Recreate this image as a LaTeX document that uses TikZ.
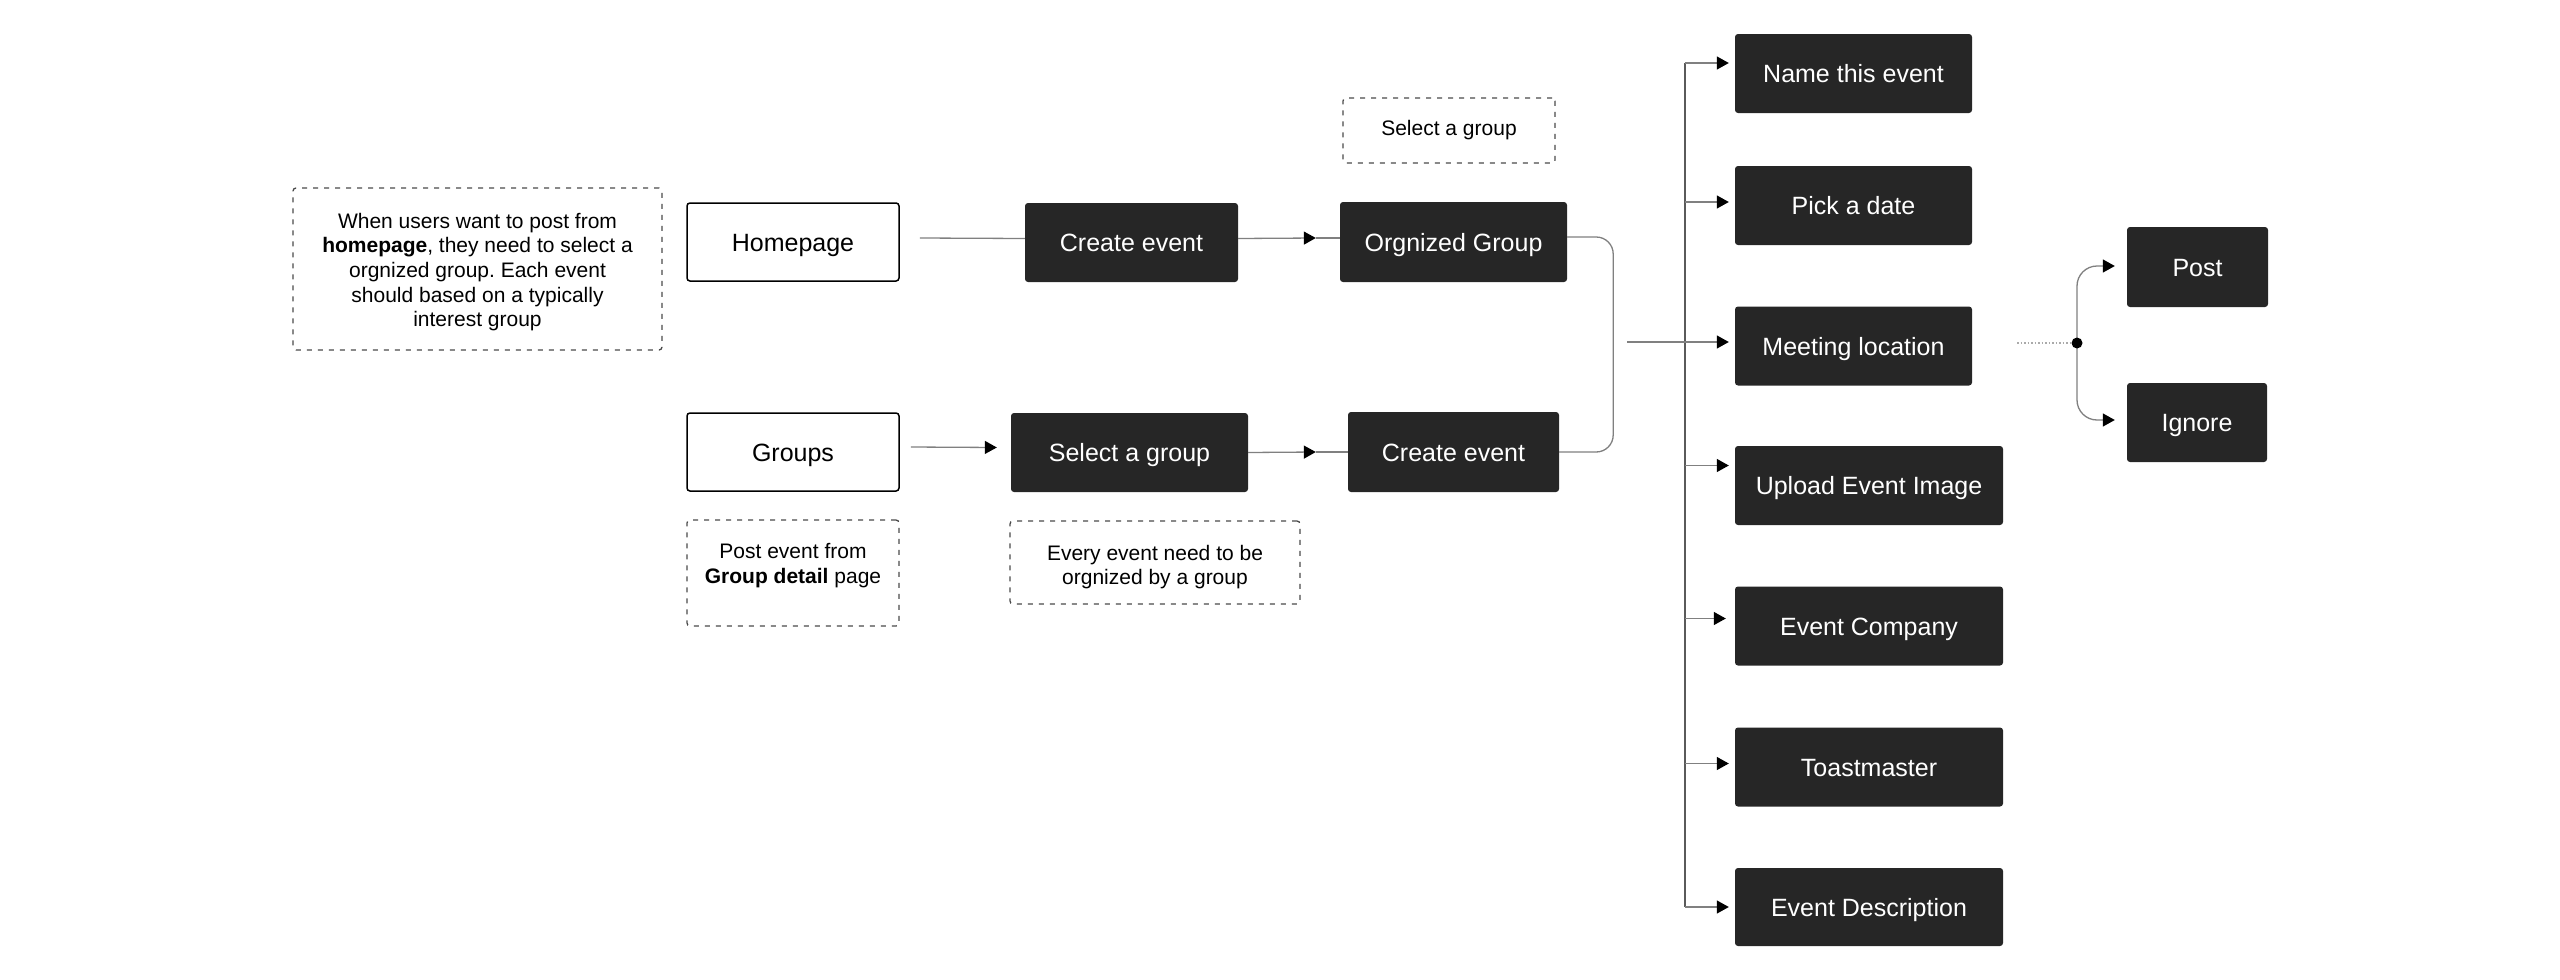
\documentclass[tikz,border=0pt]{standalone}
\usepackage{fontspec}
\setmainfont{Liberation Sans}
\frenchspacing
\usetikzlibrary{arrows.meta,calc}
\definecolor{boxdark}{HTML}{262626}
\definecolor{lnk}{HTML}{808080}
\definecolor{trk}{HTML}{5A5A5A}
\definecolor{dashc}{HTML}{4A4A4A}
\definecolor{dotc}{HTML}{AAAAAA}
\begin{document}
\begin{tikzpicture}[x=1pt,y=-1pt,
  darkbox/.style={fill=boxdark, draw=none, rounded corners=3pt, text=white,
    font=\fontsize{25}{30}\selectfont, text height=18pt, text depth=0pt, inner sep=0pt},
  whitebox/.style={draw=black, line width=1.5pt, rounded corners=3pt, fill=white,
    font=\fontsize{25}{30}\selectfont, text height=18pt, text depth=0pt, inner sep=0pt},
  notebox/.style={draw=dashc, line width=1.3pt, dash pattern=on 5pt off 6pt,
    rounded corners=3pt, align=center, font=\fontsize{21}{24.6}\selectfont, inner sep=0pt},
  notetext/.style={align=center, font=\fontsize{21}{24.6}\selectfont, inner sep=0pt},
  link/.style={draw=lnk, line width=1.3pt},
  trunkline/.style={draw=trk, line width=1.3pt},
  arr/.style={link, -{Triangle[length=12pt,width=13pt,color=black]}},
  dotline/.style={draw=dotc, line width=1.3pt, dash pattern=on 1.5pt off 2pt},
  rbox/.style={darkbox, minimum height=79pt},
]
\useasboundingbox (0,0) rectangle (2560,980);

% left notes and boxes
\node[notebox, minimum width=369pt, minimum height=162pt] (n1) at (477.5,269) {};
\node[notetext] (n1t) at (477.5,272)
  {When users want to post from\\\textbf{homepage}, they need to select a\\orgnized group. Each event\\should based on a typically\\interest group};
\node[whitebox, minimum width=212pt, minimum height=78pt] (home) at (793,242) {Homepage};
\node[darkbox, minimum width=213pt, minimum height=79pt] (ce1) at (1131.5,242.5) {Create event};
\node[darkbox, minimum width=227pt, minimum height=80pt] (org) at (1453.5,242) {Orgnized Group};
\node[notebox, minimum width=212pt, minimum height=65pt] (seln) at (1449,130.5) {Select a group};

\node[whitebox, minimum width=212pt, minimum height=78pt] (groups) at (793,452) {Groups};
\node[darkbox, minimum width=237pt, minimum height=79pt] (sel) at (1129.5,452.5) {Select a group};
\node[darkbox, minimum width=211pt, minimum height=80pt] (ce2) at (1453.5,452) {Create event};

\node[notebox, minimum width=212pt, minimum height=106pt] (n2) at (793,573) {};
\node[notetext] (n2t) at (793,565.5) {Post event from\\\textbf{Group detail} page};
\node[notebox, minimum width=290pt, minimum height=83pt] (n3) at (1155,562.5) {};
\node[notetext] (n3t) at (1155,567) {Every event need to be\\orgnized by a group};

% right column
\node[rbox, minimum width=237pt] (name) at (1853.5,73.5) {Name this event};
\node[rbox, minimum width=237pt] (pick) at (1853.5,205.5) {Pick a date};
\node[rbox, minimum width=237pt] (meet) at (1853.5,346) {Meeting location};
\node[rbox, minimum width=268pt] (upload) at (1869,485.5) {Upload Event Image};
\node[rbox, minimum width=268pt] (company) at (1869,626) {Event Company};
\node[rbox, minimum width=268pt] (toast) at (1869,767) {Toastmaster};
\node[rbox, minimum width=268pt, minimum height=78pt] (desc) at (1869,907) {Event Description};

\node[darkbox, minimum width=141pt, minimum height=80pt] (post) at (2197.5,267) {Post};
\node[darkbox, minimum width=140pt, minimum height=79pt] (ignore) at (2197,422.5) {Ignore};

% connectors, left part
\draw[link] ($(home.east)+(20,-4)$) -- ($(ce1.west)+(0,-4)$);
\draw[arr] ($(ce1.east)+(0,-4)$) -- ($(org.west)+(-24,-4)$);
\draw[link] ($(org.west)+(-24,-4)$) -- ($(org.west)+(0,-4)$);
\draw[arr] ($(groups.east)+(11,-5)$) -- ($(sel.west)+(-14,-5)$);
\draw[arr] (sel.east) -- ([xshift=-32pt]ce2.west);
\draw[link] ([xshift=-32pt]ce2.west) -- (ce2.west);
\draw[link, rounded corners=17pt] ($(org.east)+(0,-5)$) -- ($(org.east)+(46,-5)$) |- (ce2.east);

% trunk and branches
\coordinate (hub) at (1627,342);
\coordinate (ttop) at (1685,63);
\coordinate (tbot) at (1685,907);
\draw[trunkline] (ttop) -- (tbot);
\draw[arr] ($(name.west)+(-50,-10.5)$) -- ($(name.west)+(-6,-10.5)$);
\draw[arr] ($(pick.west)+(-50,-3.5)$) -- ($(pick.west)+(-6,-3.5)$);
\draw[arr] (hub) -- ($(meet.west)+(-6,-4)$);
\draw[arr] ($(upload.west)+(-50,-20)$) -- ($(upload.west)+(-6,-20)$);
\draw[arr] ($(company.west)+(-50,-7.5)$) -- ($(company.west)+(-9,-7.5)$);
\draw[arr] ($(toast.west)+(-50,-3.5)$) -- ($(toast.west)+(-6,-3.5)$);
\draw[arr] ($(desc.west)+(-50,0)$) -- ($(desc.west)+(-6,0)$);

% decision
\coordinate (dot) at (2077,343);
\coordinate (dotstart) at (2017,343);
\draw[dotline] (dotstart) -- (dot);
\draw[arr, rounded corners=20pt] (dot) |- ($(post.west)+(-12,-1)$);
\draw[arr, rounded corners=20pt] (dot) |- ($(ignore.west)+(-12,-2.5)$);
\fill[black] (dot) circle (5.5pt);
\end{tikzpicture}
\end{document}
